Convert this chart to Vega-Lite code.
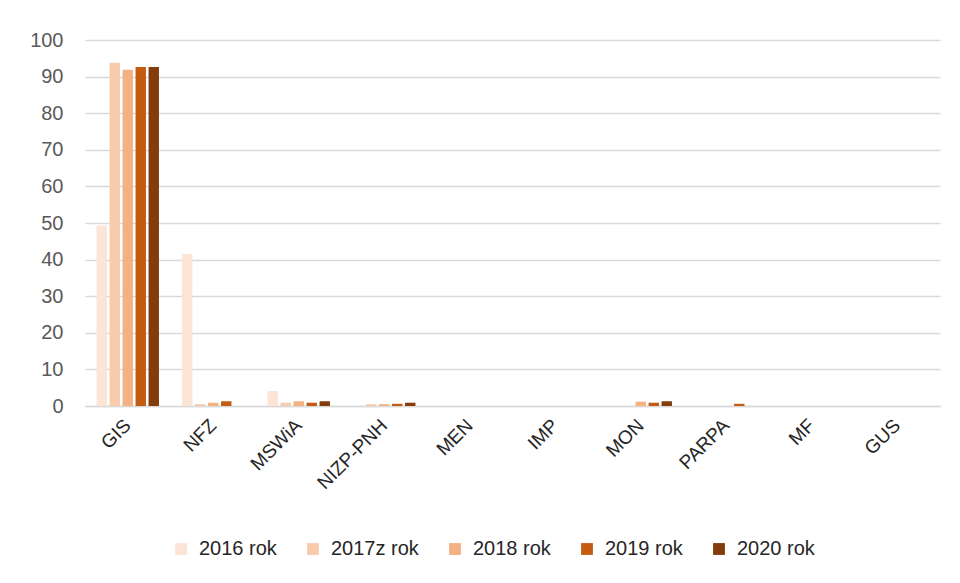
{
  "$schema": "https://vega.github.io/schema/vega-lite/v6.json",
  "autosize": "none",
  "width": 855,
  "height": 366,
  "padding": {"left": 85, "top": 40, "right": 20, "bottom": 177},
  "background": "white",
  "data": {
    "values": [
      {"k": "GIS", "y": "2016 rok", "v": 49.3},
      {"k": "GIS", "y": "2017z rok", "v": 93.8},
      {"k": "GIS", "y": "2018 rok", "v": 91.9},
      {"k": "GIS", "y": "2019 rok", "v": 92.6},
      {"k": "GIS", "y": "2020 rok", "v": 92.6},
      {"k": "NFZ", "y": "2016 rok", "v": 41.5},
      {"k": "NFZ", "y": "2017z rok", "v": 0.5},
      {"k": "NFZ", "y": "2018 rok", "v": 0.9},
      {"k": "NFZ", "y": "2019 rok", "v": 1.3},
      {"k": "NFZ", "y": "2020 rok", "v": 0},
      {"k": "MSWiA", "y": "2016 rok", "v": 4.1},
      {"k": "MSWiA", "y": "2017z rok", "v": 0.9},
      {"k": "MSWiA", "y": "2018 rok", "v": 1.3},
      {"k": "MSWiA", "y": "2019 rok", "v": 0.9},
      {"k": "MSWiA", "y": "2020 rok", "v": 1.3},
      {"k": "NIZP-PNH", "y": "2016 rok", "v": 0},
      {"k": "NIZP-PNH", "y": "2017z rok", "v": 0.5},
      {"k": "NIZP-PNH", "y": "2018 rok", "v": 0.5},
      {"k": "NIZP-PNH", "y": "2019 rok", "v": 0.6},
      {"k": "NIZP-PNH", "y": "2020 rok", "v": 0.9},
      {"k": "MEN", "y": "2016 rok", "v": 0},
      {"k": "MEN", "y": "2017z rok", "v": 0},
      {"k": "MEN", "y": "2018 rok", "v": 0},
      {"k": "MEN", "y": "2019 rok", "v": 0},
      {"k": "MEN", "y": "2020 rok", "v": 0},
      {"k": "IMP", "y": "2016 rok", "v": 0},
      {"k": "IMP", "y": "2017z rok", "v": 0},
      {"k": "IMP", "y": "2018 rok", "v": 0},
      {"k": "IMP", "y": "2019 rok", "v": 0},
      {"k": "IMP", "y": "2020 rok", "v": 0},
      {"k": "MON", "y": "2016 rok", "v": 0},
      {"k": "MON", "y": "2017z rok", "v": 0},
      {"k": "MON", "y": "2018 rok", "v": 1.2},
      {"k": "MON", "y": "2019 rok", "v": 0.9},
      {"k": "MON", "y": "2020 rok", "v": 1.3},
      {"k": "PARPA", "y": "2016 rok", "v": 0},
      {"k": "PARPA", "y": "2017z rok", "v": 0},
      {"k": "PARPA", "y": "2018 rok", "v": 0},
      {"k": "PARPA", "y": "2019 rok", "v": 0.6},
      {"k": "PARPA", "y": "2020 rok", "v": 0},
      {"k": "MF", "y": "2016 rok", "v": 0},
      {"k": "MF", "y": "2017z rok", "v": 0},
      {"k": "MF", "y": "2018 rok", "v": 0},
      {"k": "MF", "y": "2019 rok", "v": 0},
      {"k": "MF", "y": "2020 rok", "v": 0},
      {"k": "GUS", "y": "2016 rok", "v": 0},
      {"k": "GUS", "y": "2017z rok", "v": 0},
      {"k": "GUS", "y": "2018 rok", "v": 0},
      {"k": "GUS", "y": "2019 rok", "v": 0},
      {"k": "GUS", "y": "2020 rok", "v": 0}
    ]
  },
  "mark": {"type": "bar"},
  "encoding": {
    "x": {
      "field": "k", "type": "nominal", "sort": null,
      "scale": {"paddingInner": 0.27, "paddingOuter": 0.135},
      "axis": {
        "title": null, "labelAngle": -45, "labelAlign": "right", "labelBaseline": "middle",
        "labelFont": "Liberation Sans", "labelFontSize": 19, "labelColor": "#262626",
        "labelPadding": 16, "ticks": false, "domainColor": "#d9d9d9", "domainWidth": 1.5,
        "grid": false
      }
    },
    "xOffset": {
      "field": "y", "type": "nominal", "sort": null,
      "scale": {"paddingInner": 0.2, "paddingOuter": 0}
    },
    "y": {
      "field": "v", "type": "quantitative",
      "scale": {"domain": [0, 100], "nice": false},
      "axis": {
        "title": null, "values": [0,10,20,30,40,50,60,70,80,90,100],
        "labelFont": "Liberation Sans", "labelFontSize": 20, "labelColor": "#595959",
        "labelPadding": 22, "ticks": false, "domain": false,
        "gridColor": "#d9d9d9", "gridWidth": 1.5
      }
    },
    "color": {
      "field": "y", "type": "nominal", "sort": null,
      "scale": {
        "domain": ["2016 rok", "2017z rok", "2018 rok", "2019 rok", "2020 rok"],
        "range": ["#fce4d6", "#f8cbad", "#f4b183", "#c55a11", "#843c0c"]
      },
      "legend": {
        "title": null, "orient": "none", "legendX": 86, "legendY": 499,
        "direction": "horizontal", "columns": 5,
        "symbolType": "square", "symbolSize": 140, "symbolStrokeWidth": 0,
        "labelFont": "Liberation Sans", "labelFontSize": 20, "labelColor": "#262626",
        "columnPadding": 26, "labelOffset": 8
      }
    }
  },
  "config": {"view": {"stroke": null}}
}
